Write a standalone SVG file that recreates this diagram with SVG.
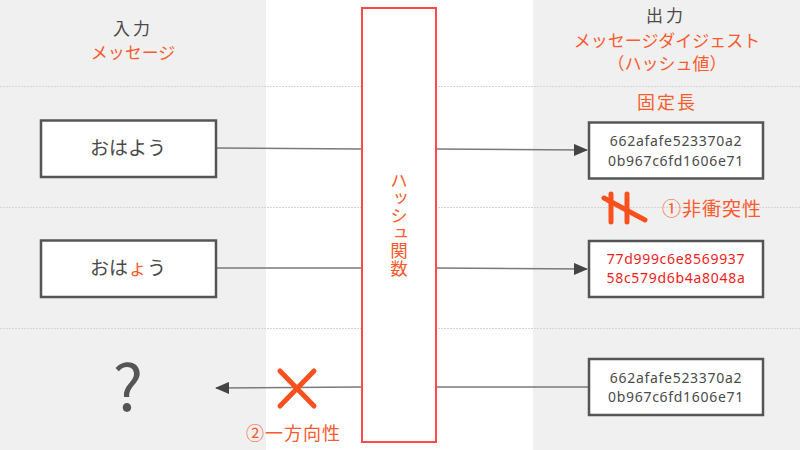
<svg xmlns="http://www.w3.org/2000/svg" width="800" height="450" viewBox="0 0 800 450">
<style>
.jp{font-family:"Noto Sans CJK JP","Noto Sans",sans-serif}
.dark{fill:#4a4a4a}
.accent{fill:#fa5a2c}
.box{fill:#ffffff;stroke:#555555;stroke-width:2.5}
.hash{font-family:"Noto Sans","Noto Sans CJK JP",sans-serif;font-size:14px;letter-spacing:0.7px;text-anchor:middle}
.grid{stroke:#d6d6d6;stroke-width:1;stroke-dasharray:2 1}
.conn{stroke:#7a7a7a;stroke-width:1.5;fill:none}
</style>
<defs>
<marker id="arr2" viewBox="0 0 14 12" refX="13" refY="6" markerWidth="14" markerHeight="12" markerUnits="userSpaceOnUse" orient="auto">
<path d="M0,0 L14,6 L0,12 z" fill="#444444"/>
</marker>
</defs>
<rect x="0" y="0" width="800" height="450" fill="#ffffff"/>
<rect x="0" y="0" width="266" height="450" fill="#f0f0f0"/>
<rect x="533" y="0" width="267" height="450" fill="#f0f0f0"/>
<g id="grid">
<line class="grid" x1="0" y1="86.5" x2="800" y2="86.5"/>
<line class="grid" x1="0" y1="207.5" x2="800" y2="207.5"/>
<line class="grid" x1="0" y1="328.5" x2="800" y2="328.5"/>
</g>
<g id="headers" class="jp" text-anchor="middle">
<text x="133" y="35" font-size="17" class="dark" letter-spacing="3">入力</text>
<text x="133" y="59" font-size="17" class="accent">メッセージ</text>
<text x="666" y="22" font-size="17" class="dark" letter-spacing="3">出力</text>
<text x="667" y="47" font-size="17" class="accent">メッセージダイジェスト</text>
<text x="667" y="70" font-size="17" class="accent">（ハッシュ値）</text>
<text x="667" y="109" font-size="18" class="accent" letter-spacing="2">固定長</text>
</g>
<g id="connectors">
<line class="conn" x1="216" y1="148" x2="362" y2="149"/>
<line class="conn" x1="436" y1="149" x2="587" y2="150" marker-end="url(#arr2)"/>
<line class="conn" x1="216" y1="268" x2="362" y2="268"/>
<line class="conn" x1="436" y1="268" x2="587" y2="269" marker-end="url(#arr2)"/>
<line class="conn" x1="588" y1="387" x2="436" y2="387"/>
<line class="conn" x1="362" y1="387" x2="216" y2="388" marker-end="url(#arr2)"/>
</g>
<g id="hashfunc">
<rect x="362" y="8" width="74" height="434" fill="#ffffff" stroke="#ff4a4a" stroke-width="2"/>
<text class="jp accent" font-size="17.5" x="399" y="172" writing-mode="vertical-rl" style="writing-mode:vertical-rl">ハッシュ関数</text>
</g>
<g id="in1">
<rect class="box" x="41" y="120.5" width="175" height="56.5"/>
<text x="128" y="155" class="jp dark" font-size="19" text-anchor="middle">おはよう</text>
</g>
<g id="in2">
<rect class="box" x="41" y="240.5" width="175" height="56.5"/>
<text x="128" y="275" class="jp dark" font-size="19" text-anchor="middle">おは<tspan class="accent">ょ</tspan>う</text>
</g>
<g id="unknown">
<text x="128" y="411" class="jp" fill="#555555" font-size="64" text-anchor="middle">?</text>
</g>
<g id="out1">
<rect class="box" x="589" y="122.5" width="174" height="56"/>
<text class="hash dark"><tspan x="676" y="146">662afafe523370a2</tspan><tspan x="676" y="166">0b967c6fd1606e71</tspan></text>
</g>
<g id="out2">
<rect class="box" x="589" y="241" width="174" height="56"/>
<text class="hash" fill="#f01c1c"><tspan x="676" y="264">77d999c6e8569937</tspan><tspan x="676" y="283">58c579d6b4a8048a</tspan></text>
</g>
<g id="out3">
<rect class="box" x="589" y="359" width="174" height="56"/>
<text class="hash dark"><tspan x="676" y="383">662afafe523370a2</tspan><tspan x="676" y="402">0b967c6fd1606e71</tspan></text>
</g>
<g id="neq" stroke="#fa501e" stroke-width="5" stroke-linecap="round" fill="none">
<line x1="611" y1="194" x2="611" y2="222"/>
<line x1="627" y1="194" x2="627" y2="222"/>
<line x1="604" y1="198" x2="645" y2="220"/>
</g>
<text id="prop1" x="662" y="216" class="jp accent" font-size="19" letter-spacing="1">①非衝突性</text>
<g id="cross" stroke="#fa501e" stroke-width="5" stroke-linecap="round">
<line x1="280" y1="371" x2="314" y2="406"/>
<line x1="314" y1="371" x2="280" y2="406"/>
</g>
<text id="prop2" x="246" y="440" class="jp accent" font-size="18" letter-spacing="1">②一方向性</text>
</svg>
